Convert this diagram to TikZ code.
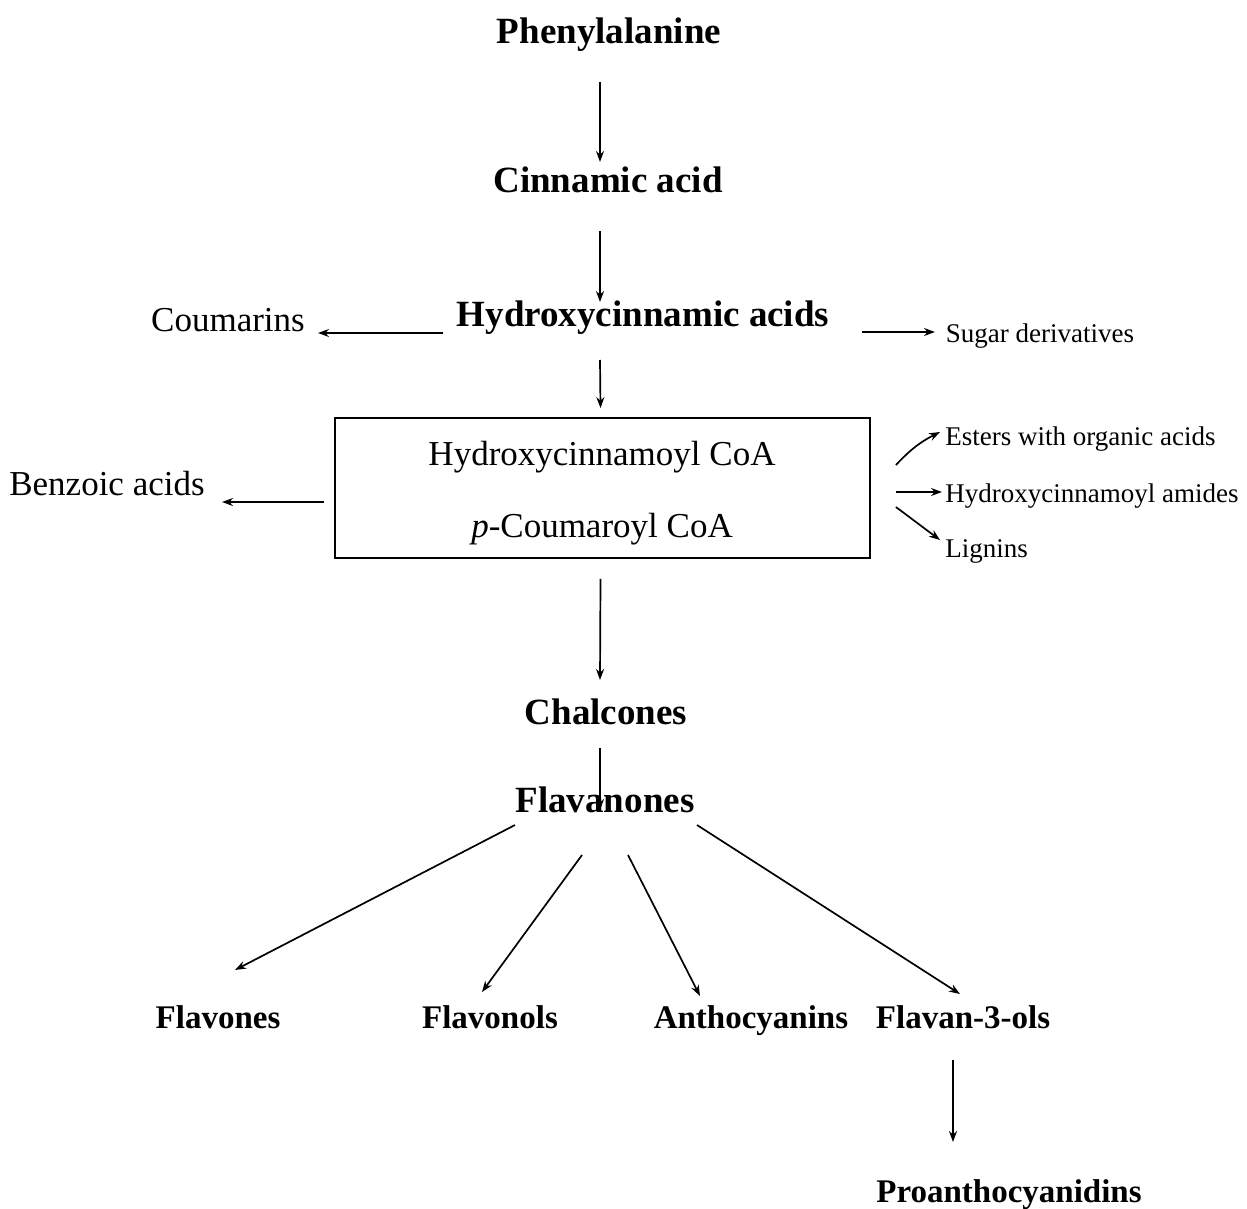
\documentclass[tikz,border=0pt]{standalone}
\usepackage{fontspec}
\setmainfont{Liberation Serif}
\usetikzlibrary{arrows.meta,calc}
\tikzset{
  lab/.style={inner sep=0pt, text height=1.3em, text depth=0.22em},
  bl/.style={lab, font=\fontsize{18.5}{20}\selectfont\bfseries},
  bls/.style={lab, font=\fontsize{16.5}{18}\selectfont\bfseries},
  rg/.style={lab, font=\fontsize{17.5}{19}\selectfont},
  sm/.style={lab, font=\fontsize{13.5}{15}\selectfont},
  arr/.style={line width=0.85pt, -{Stealth[length=5.5pt,width=4pt]}},
  boxst/.style={draw, line width=0.9pt, minimum width=267.5pt, minimum height=70pt, inner sep=0pt}
}
\begin{document}
\begin{tikzpicture}[x=0.5pt,y=-0.5pt]
\useasboundingbox (0,0) rectangle (1247,1209);
% nodes
\node[bl] (phe) at (609,33) {Phenylalanine};
\node[bl] (cin) at (608,182) {Cinnamic acid};
\node[bl] (hca) at (643,316) {Hydroxycinnamic acids};
\node[rg] (cou) at (228,321) {Coumarins};
\node[sm] (sug) at (1040,332) {Sugar derivatives};
\node[boxst] (box) at (602.5,488) {};
\node[rg] (hcoa) at (602,455) {Hydroxycinnamoyl CoA};
\node[rg] (pcoa) at (602,527) {\textit{p}-Coumaroyl CoA};
\node[rg] (benz) at (107,485) {Benzoic acids};
\node[sm,anchor=west] (est) at (945,435) {Esters with organic acids};
\node[sm,anchor=west] (amd) at (945,492) {Hydroxycinnamoyl amides};
\node[sm,anchor=west] (lig) at (945,547) {Lignins};
\node[bl] (chal) at (606,714) {Chalcones};
\node[bl] (fla) at (605,802) {Flavanones};
\node[bls] (flv) at (218,1018) {Flavones};
\node[bls] (flo) at (490,1018) {Flavonols};
\node[bls] (ant) at (751,1018) {Anthocyanins};
\node[bls] (f3o) at (963,1018) {Flavan-3-ols};
\node[bls] (pro) at (1009,1192) {Proanthocyanidins};
% connectors
\draw[arr] ($(phe)+(-9,49)$) -- ($(cin)+(-8,-20)$);
\draw[arr] ($(cin)+(-8,49)$) -- ($(hca)+(-43,-14)$);
\draw[arr] ($(hca)+(-200,17)$) -- ($(cou)+(90,12)$);
\draw[arr] ($(hca)+(219,16)$) -- ($(sug)+(-105,0)$);
\draw[arr] ($(hca)+(-43,44)$) -- ($(box.north)+(-2,-9)$);
\draw[arr] ($(box.west)+(-10,14)$) -- ($(benz)+(115,17)$);
\draw[arr] ($(box.east)+(25,-23)$) to[bend left=10] ($(est.west)+(-5,-3)$);
\draw[arr] ($(box.east)+(25,4)$) -- ($(amd.west)+(-3,0)$);
\draw[arr] ($(box.east)+(25,19)$) -- ($(lig.west)+(-5,-7)$);
\draw[arr] ($(box.south)+(-2,20)$) -- ($(chal)+(-6,-34)$);
\draw[arr] ($(chal)+(-6,34)$) -- ($(fla)+(-5,8)$);
\draw[arr] ($(fla)+(-90,23)$) -- ($(flv)+(17,-48)$);
\draw[arr] ($(fla)+(-23,53)$) -- ($(flo)+(-8,-26)$);
\draw[arr] ($(fla)+(23,53)$) -- ($(ant)+(-51,-22)$);
\draw[arr] ($(fla)+(92,23)$) -- ($(f3o)+(-3,-24)$);
\draw[arr] ($(f3o)+(-10,42)$) -- ($(pro)+(-56,-50)$);
\end{tikzpicture}
\end{document}
